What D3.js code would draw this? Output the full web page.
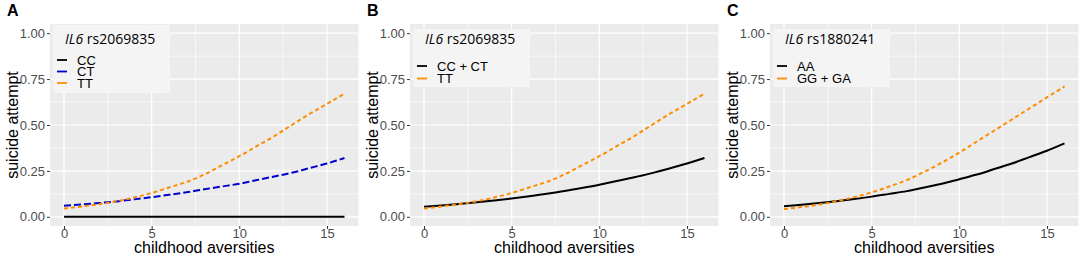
<!DOCTYPE html>
<html>
<head>
<meta charset="utf-8">
<script src="https://cdn.jsdelivr.net/npm/d3@7"></script>
<style>
  body { margin: 0; background: #fff; }
  text { font-family: "Liberation Sans", Arial, sans-serif; }
</style>
</head>
<body>
<svg id="mainsvg" width="1084" height="256"></svg>
<script>
// data, x = 0..16
const xs = d3.range(0, 17);
const aCC = [0,0,0,0,0,0,0,0,0,0,0,0,0,0,0,0,0];
const aCT = [0.06,0.067,0.075,0.084,0.095,0.107,0.12,0.134,0.15,0.165,0.18,0.20,0.22,0.24,0.265,0.29,0.32];
const tt  = [0.045,0.056,0.069,0.085,0.105,0.13,0.16,0.19,0.23,0.28,0.33,0.385,0.44,0.50,0.56,0.615,0.67];
const bCCCT = [0.055,0.062,0.07,0.079,0.089,0.10,0.112,0.125,0.14,0.157,0.175,0.195,0.215,0.238,0.263,0.29,0.32];
const cAA = [0.058,0.066,0.075,0.085,0.097,0.11,0.125,0.14,0.16,0.18,0.205,0.23,0.26,0.29,0.325,0.36,0.40];
const cGG = [0.042,0.053,0.067,0.085,0.107,0.133,0.165,0.20,0.245,0.295,0.35,0.41,0.47,0.53,0.59,0.65,0.71];
const xTicks = [0, 5, 10, 15];
const yTicks = [0, 0.25, 0.5, 0.75, 1];

const black = '#000000', blue = '#0000CD', orange = '#FF8C00';

const panels = [
  {tag: 'A', snp: ' rs2069835', compact: true, series: [
    {name: 'CC', vals: aCC, color: black, dash: null},
    {name: 'CT', vals: aCT, color: blue, dash: '7,3'},
    {name: 'TT', vals: tt, color: orange, dash: '4,3'}]},
  {tag: 'B', snp: ' rs2069835', compact: false, series: [
    {name: 'CC + CT', vals: bCCCT, color: black, dash: null},
    {name: 'TT', vals: tt, color: orange, dash: '4,3'}]},
  {tag: 'C', snp: ' rs1880241', compact: false, series: [
    {name: 'AA', vals: cAA, color: black, dash: null},
    {name: 'GG + GA', vals: cGG, color: orange, dash: '4,3'}]}
];

const svg = d3.select('#mainsvg');
const pLeft = 50, pRight = 358.5, pTop = 24, pBottom = 226;

panels.forEach((p, i) => {
  const g = svg.append('g').attr('transform', `translate(${i * 360}, 0)`);

  const x = d3.scaleLinear().domain([-0.8, 16.8]).range([pLeft, pRight]);
  const y = d3.scaleLinear().domain([-0.05, 1.05]).range([pBottom, pTop]);

  g.append('rect').attr('x', pLeft).attr('y', pTop)
    .attr('width', pRight - pLeft).attr('height', pBottom - pTop).attr('fill', '#EBEBEB');

  // minor grid
  [2.5, 7.5, 12.5].forEach(v => g.append('line')
    .attr('x1', x(v)).attr('x2', x(v)).attr('y1', pTop).attr('y2', pBottom)
    .attr('stroke', '#fff').attr('stroke-width', 0.6));
  [0.125, 0.375, 0.625, 0.875].forEach(v => g.append('line')
    .attr('x1', pLeft).attr('x2', pRight).attr('y1', y(v)).attr('y2', y(v))
    .attr('stroke', '#fff').attr('stroke-width', 0.6));
  // major grid
  xTicks.forEach(v => g.append('line')
    .attr('x1', x(v)).attr('x2', x(v)).attr('y1', pTop).attr('y2', pBottom)
    .attr('stroke', '#fff').attr('stroke-width', 1.2));
  yTicks.forEach(v => g.append('line')
    .attr('x1', pLeft).attr('x2', pRight).attr('y1', y(v)).attr('y2', y(v))
    .attr('stroke', '#fff').attr('stroke-width', 1.2));

  // axes
  const xa = g.append('g').attr('transform', `translate(0, ${pBottom})`)
    .call(d3.axisBottom(x).tickValues(xTicks).tickSize(3).tickPadding(0).tickFormat(d3.format('d')));
  const ya = g.append('g').attr('transform', `translate(${pLeft}, 0)`)
    .call(d3.axisLeft(y).tickValues(yTicks).tickSize(3).tickPadding(2).tickFormat(d3.format('.2f')));
  [xa, ya].forEach(a => {
    a.select('.domain').remove();
    a.selectAll('line').attr('stroke', '#333');
    a.selectAll('text').attr('fill', '#4D4D4D').style('font-size', '13px')
      .style('font-family', '"Liberation Sans", Arial, sans-serif');
  });

  // lines
  const line = d3.line().curve(d3.curveMonotoneX).x((d, j) => x(xs[j])).y(d => y(d));
  p.series.forEach(s => {
    g.append('path').attr('d', line(s.vals)).attr('fill', 'none')
      .attr('stroke', s.color).attr('stroke-width', 2)
      .attr('stroke-dasharray', s.dash);
  });

  // labels
  g.append('text').attr('x', 7).attr('y', 16).style('font-size', '16px')
    .style('font-weight', 'bold').text(p.tag);
  g.append('text').attr('transform', 'rotate(-90)')
    .attr('x', -(pTop + pBottom) / 2).attr('y', 18)
    .style('text-anchor', 'middle').style('font-size', '16px').text('suicide attempt');
  g.append('text').attr('x', (pLeft + pRight) / 2).attr('y', 253)
    .style('text-anchor', 'middle').style('font-size', '16px').text('childhood aversities');

  // legend
  const lg = g.append('g');
  const ly0 = p.compact ? 25 : 29, ly1 = p.compact ? 93 : 87;
  lg.append('rect').attr('x', 53).attr('y', ly0).attr('width', 117).attr('height', ly1 - ly0)
    .attr('fill', '#F4F4F4');
  const title = lg.append('text').attr('x', 65).attr('y', 44)
    .style('font-family', '"Open Sans", "Noto Sans", sans-serif').style('font-size', '14px');
  title.append('tspan').style('font-style', 'italic').text('IL6');
  title.append('tspan').text(p.snp);
  const itemY = p.compact ? [60, 71.5, 83] : [66, 78.5];
  p.series.forEach((s, j) => {
    lg.append('line').attr('x1', 57).attr('x2', 67).attr('y1', itemY[j]).attr('y2', itemY[j])
      .attr('stroke', s.color).attr('stroke-width', 1.8);
    lg.append('text').attr('x', 77).attr('y', itemY[j] + 4.5).style('font-size', '13px').text(s.name);
  });
});
</script>
</body>
</html>
